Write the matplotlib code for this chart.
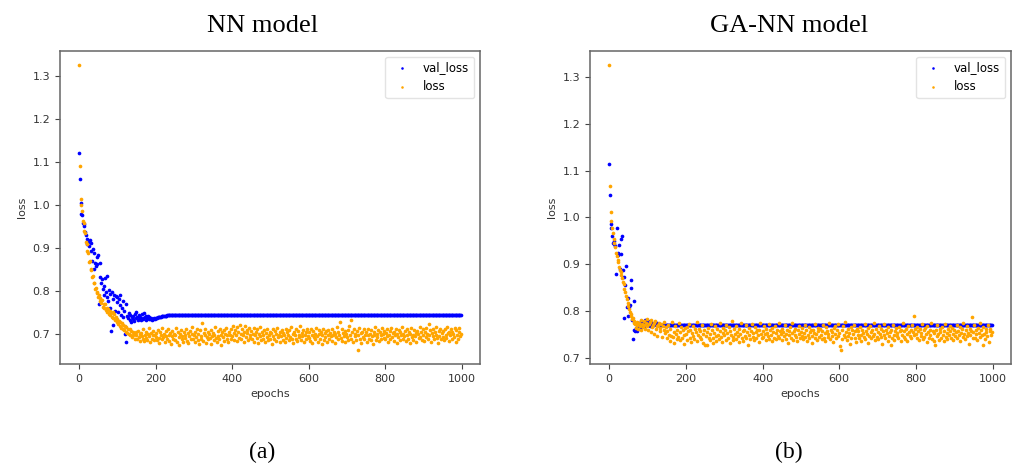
import numpy as np
import matplotlib.pyplot as plt

# loss values, in thousandths, one value every 2 epochs
nn_loss = [
    1325, 1090, 1015, 1000, 987, 963, 958, 940, 934, 915, 909, 893, 888, 868, 870, 852, 849, 833, 836, 818, 820, 804, 808, 795, 797,
    786, 792, 777, 784, 772, 779, 764, 770, 760, 771, 756, 762, 751, 758, 747, 755, 744, 750, 740, 752, 737, 746, 733, 741, 729,
    735, 724, 731, 719, 728, 715, 725, 712, 722, 709, 718, 705, 716, 703, 711, 700, 713, 698, 708, 694, 706, 697, 702, 690, 704,
    699, 688, 707, 693, 701, 685, 703, 696, 690, 711, 684, 698, 705, 692, 687, 700, 714, 695, 681, 703, 690, 697, 708, 686, 699,
    694, 702, 686, 710, 691, 679, 705, 698, 688, 715, 693, 700, 683, 707, 696, 689, 712, 684, 699, 703, 677, 695, 708, 690, 701,
    687, 697, 714, 682, 704, 693, 676, 700, 709, 689, 695, 681, 706, 698, 692, 711, 685, 703, 679, 696, 707, 688, 700, 716, 690,
    698, 683, 705, 694, 712, 687, 700, 678, 709, 696, 690, 725, 684, 702, 697, 713, 680, 694, 706, 689, 701, 692, 678, 710, 695,
    703, 686, 699, 717, 691, 682, 707, 695, 688, 711, 698, 676, 704, 693, 709, 685, 700, 714, 690, 697, 683, 706, 699, 688, 712,
    695, 719, 703, 687, 710, 698, 716, 684, 705, 692, 721, 700, 688, 713, 697, 706, 681, 718, 694, 709, 702, 686, 715, 699, 691,
    708, 689, 701, 714, 683, 697, 706, 692, 711, 679, 700, 695, 716, 687, 704, 698, 690, 709, 682, 702, 694, 712, 686, 699, 705,
    690, 703, 677, 711, 696, 688, 707, 700, 684, 714, 693, 699, 681, 706, 695, 710, 687, 702, 698, 683, 713, 691, 704, 697, 686,
    709, 694, 716, 688, 701, 679, 705, 697, 712, 690, 684, 707, 699, 693, 718, 686, 702, 695, 710, 681, 698, 706, 689, 713, 696,
    692, 704, 685, 711, 698, 679, 707, 694, 701, 688, 715, 696, 683, 709, 700, 690, 705, 677, 697, 712, 687, 703, 694, 708, 682,
    699, 710, 689, 702, 695, 684, 713, 697, 706, 680, 700, 693, 716, 688, 704, 698, 729, 691, 711, 685, 702, 696, 707, 683, 700,
    694, 709, 687, 718, 698, 734, 690, 705, 683, 712, 696, 700, 686, 708, 664, 697, 715, 689, 703, 679, 706, 694, 711, 688, 699,
    705, 682, 697, 713, 690, 701, 686, 709, 695, 678, 704, 699, 716, 687, 700, 693, 710, 684, 706, 697, 689, 714, 701, 692, 707,
    688, 703, 696, 711, 681, 699, 708, 690, 715, 694, 702, 685, 706, 697, 712, 680, 700, 693, 709, 687, 704, 698, 717, 689, 701,
    695, 707, 684, 712, 698, 690, 705, 679, 701, 714, 693, 699, 686, 710, 696, 703, 682, 708, 700, 691, 716, 694, 704, 687, 711,
    698, 685, 706, 693, 714, 700, 689, 723, 697, 709, 683, 702, 695, 711, 688, 705, 699, 716, 692, 680, 707, 696, 712, 690, 703,
    694, 708, 686, 713, 699, 691, 717, 702, 684, 706, 697, 711, 689, 704, 700, 693, 715, 682, 709, 698, 690, 706, 714, 695, 701,
]

# val_loss before it settles (every 2 epochs), then a flat level
nn_val_head = [
    1120, 1060, 1005, 980, 976, 958, 955, 951, 938, 930, 921, 909, 913, 905, 918, 893, 912, 870, 899, 852, 889, 866, 858, 880, 862,
    884, 769, 832, 866, 820, 828, 805, 812, 791, 830, 798, 835, 787, 776, 803, 794, 760, 708, 797, 721, 782, 792, 754, 788, 775,
    786, 752, 781, 768, 790, 745, 762, 776, 741, 755, 700, 769, 681, 742, 738, 750, 733, 745, 729, 740, 736, 743, 731, 748, 737,
    752, 739, 734, 744, 737, 741, 732, 746, 738, 735, 749, 740, 743, 733, 738, 742, 736, 739, 735, 737, 734, 736, 735, 737, 736,
    737, 738, 738, 739, 740, 740, 741, 741, 742, 742, 742, 743, 743, 743, 743,
]
nn_val_level = 744

ga_loss = [
    1325, 1067, 1012, 992, 978, 966, 953, 946, 936, 924, 918, 910, 906, 895, 889, 884, 878, 870, 862, 858, 848, 842, 833, 826, 818,
    812, 804, 799, 790, 795, 783, 786, 776, 780, 772, 765, 778, 770, 762, 775, 768, 781, 759, 773, 766, 779, 770, 763, 775, 768,
    783, 760, 772, 777, 755, 781, 766, 770, 752, 774, 779, 763, 768, 748, 771, 776, 758, 765, 773, 745, 769, 761, 777, 754, 766,
    758, 742, 771, 750, 737, 763, 748, 777, 745, 756, 733, 769, 752, 740, 761, 746, 774, 738, 755, 767, 743, 759, 749, 731, 764,
    751, 766, 739, 757, 772, 744, 760, 735, 753, 768, 747, 741, 762, 755, 778, 736, 750, 763, 745, 758, 740, 770, 752, 733, 761,
    729, 747, 756, 727, 765, 742, 751, 738, 773, 759, 744, 732, 754, 768, 748, 737, 762, 750, 741, 757, 775, 746, 735, 753, 764,
    749, 760, 738, 771, 754, 743, 766, 733, 757, 750, 779, 745, 739, 762, 752, 768, 741, 756, 747, 734, 763, 751, 775, 744, 758,
    736, 761, 748, 770, 743, 755, 729, 764, 750, 740, 758, 773, 746, 753, 738, 767, 756, 744, 761, 749, 735, 759, 776, 752, 742,
    757, 745, 768, 751, 739, 762, 754, 747, 772, 741, 759, 750, 765, 737, 756, 744, 769, 753, 740, 760, 748, 774, 743, 758, 751,
    763, 738, 755, 747, 770, 752, 741, 760, 733, 757, 749, 766, 744, 754, 775, 739, 758, 750, 762, 745, 736, 759, 752, 768, 743,
    756, 747, 764, 740, 753, 771, 745, 759, 736, 750, 767, 742, 755, 761, 748, 732, 760, 753, 744, 773, 751, 739, 758, 765, 746,
    762, 749, 741, 757, 770, 744, 753, 737, 766, 758, 745, 752, 775, 740, 761, 748, 756, 734, 764, 751, 769, 743, 759, 747, 772,
    754, 725, 718, 761, 740, 768, 750, 745, 777, 756, 738, 763, 748, 753, 730, 766, 744, 759, 751, 771, 742, 757, 735, 762, 749,
    758, 743, 767, 750, 736, 761, 754, 746, 773, 740, 757, 751, 764, 733, 748, 769, 755, 742, 760, 747, 776, 752, 738, 763, 745,
    756, 740, 768, 751, 745, 762, 731, 757, 749, 772, 743, 759, 753, 736, 766, 748, 755, 729, 761, 744, 770, 750, 739, 758, 764,
    747, 753, 742, 767, 757, 736, 761, 750, 774, 745, 758, 741, 763, 752, 737, 769, 755, 748, 760, 744, 771, 756, 749, 790, 762,
    751, 743, 766, 757, 738, 762, 748, 754, 772, 740, 759, 746, 765, 752, 735, 768, 756, 744, 761, 749, 775, 741, 758, 753, 737,
    727, 760, 747, 770, 751, 739, 763, 755, 744, 767, 750, 736, 758, 773, 746, 754, 741, 762, 749, 769, 757, 743, 765, 752, 738,
    761, 748, 755, 771, 742, 758, 750, 766, 737, 753, 763, 745, 776, 752, 740, 759, 747, 768, 754, 731, 762, 749, 757, 787, 744,
    756, 770, 743, 761, 751, 738, 765, 754, 774, 745, 759, 749, 728, 767, 752, 740, 763, 756, 747, 771, 735, 758, 762, 750, 755,
]

ga_val_head = [
    1115, 1047, 985, 978, 960, 946, 950, 943, 940, 880, 978, 925, 920, 942, 890, 955, 922, 960, 888, 873, 785, 857, 896, 810, 790,
    828, 810, 813, 867, 849, 782, 741, 760, 821, 757, 765, 770, 758, 775, 768, 772, 780, 766, 775, 770, 778, 769, 782, 773, 776,
    771, 779, 774, 768, 777, 772, 775, 770, 773, 771, 776, 772, 774, 771, 772,
]
ga_val_level = 771

titles = ["NN model", "GA-NN model"]
captions = ["(a)", "(b)"]


def build(loss, val_head, val_level):
    ep = np.arange(len(loss)) * 2
    val = np.concatenate([val_head, np.full(len(loss) - len(val_head), val_level)])
    return ep, np.array(val) / 1000.0, np.array(loss) / 1000.0


fig = plt.figure(figsize=(10.13, 4.66), dpi=100)
boxes = [[0.0592, 0.219, 0.4146, 0.672], [0.5824, 0.219, 0.4156, 0.672]]
title_x = [0.259, 0.779]
data = [(nn_loss, nn_val_head, nn_val_level), (ga_loss, ga_val_head, ga_val_level)]

for i in range(2):
    ax = fig.add_axes(boxes[i])
    ep, val, loss = build(*data[i])
    ax.scatter(ep, val, s=7, c="blue", linewidths=0, label="val_loss")
    ax.scatter(ep, loss, s=7, c="orange", linewidths=0, label="loss")
    ax.set_xlabel("epochs", fontsize=8, color="#333333")
    ax.set_ylabel("loss", fontsize=8, color="#333333")
    ax.tick_params(labelsize=8, colors="#444444", labelcolor="#333333")
    for sp in ax.spines.values():
        sp.set_color("#666666")
        sp.set_linewidth(1.1)
    leg = ax.legend(loc="upper right", fontsize=8.5, markerscale=0.7)
    leg.get_frame().set_edgecolor("#dddddd")
    fig.text(title_x[i], 0.945, titles[i], ha="center", va="center",
             family="Liberation Serif", fontsize=19)
    fig.text(title_x[i], 0.03, captions[i], ha="center", va="center",
             family="Liberation Serif", fontsize=17)

fig.savefig("out.png", dpi=100)
